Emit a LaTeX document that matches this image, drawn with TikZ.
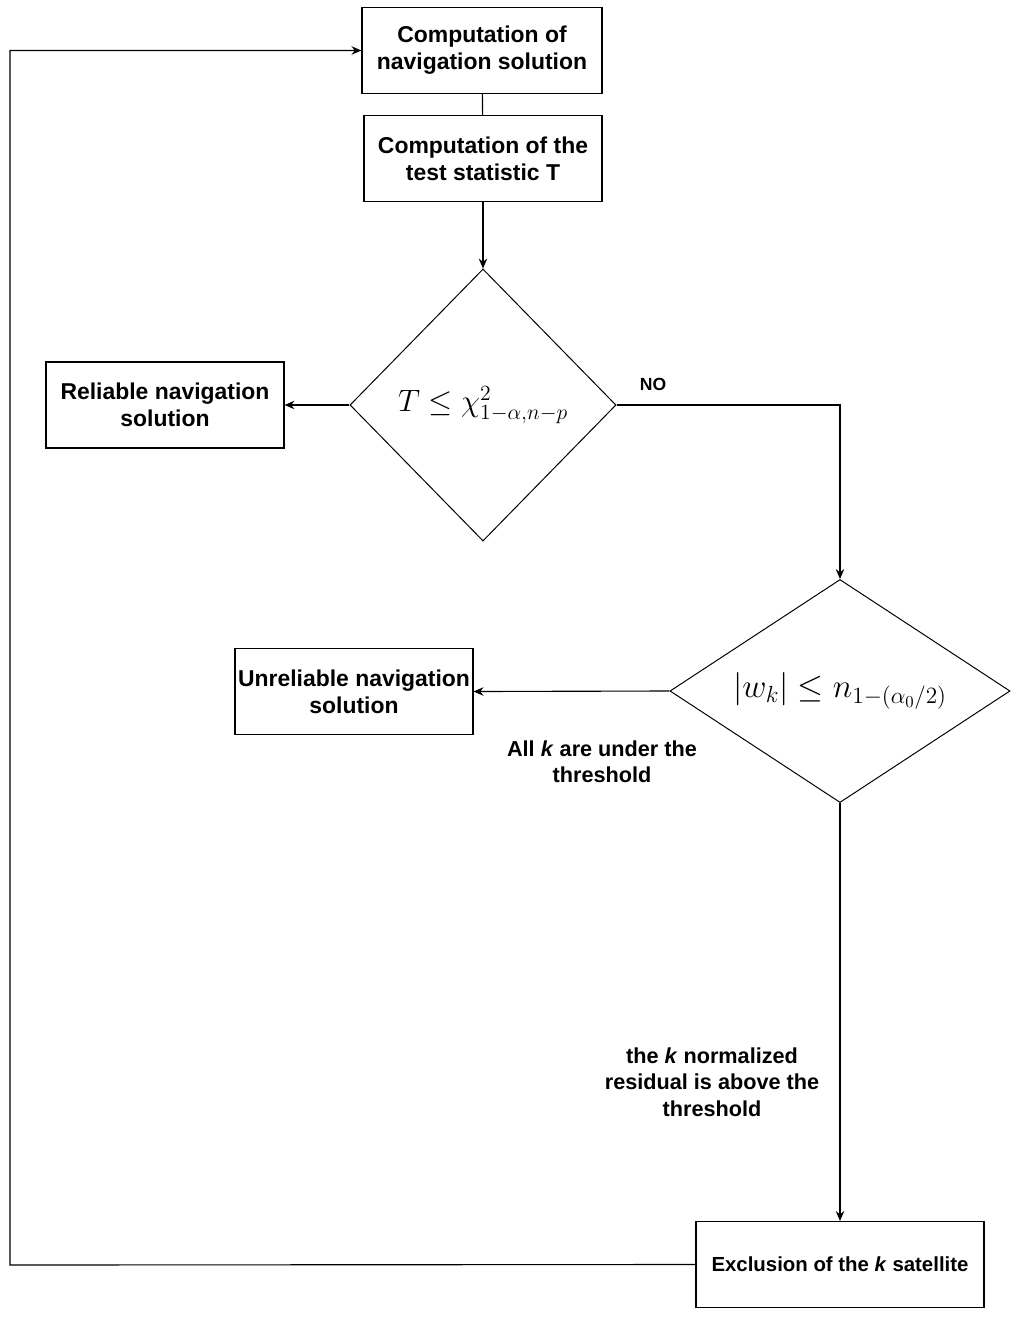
\documentclass[tikz,border=0pt]{standalone}
\usepackage{fix-cm}
\usepackage{amsmath}
\usepackage{amssymb}
\usepackage{fontspec}
\setmainfont{Liberation Sans}
\usetikzlibrary{shapes.geometric}
\usetikzlibrary{arrows.meta}

\begin{document}
\begin{tikzpicture}[
    x=0.025cm, y=-0.025cm,
    every node/.style={inner sep=1mm},
    punkt/.style={rectangle, draw=black, line width=0.8pt, align=center,
    minimum height=2.15cm, font=\fontsize{16.3}{19.2}\selectfont\bfseries},
    rombe/.style={diamond, draw=black, line width=0.7pt, inner sep=0pt},
    kant/.style={align=center, font=\fontsize{15.4}{18.8}\selectfont\bfseries},
    pil/.style={line width=0.8pt, -{Stealth[length=7pt,width=6pt]}},
    linje/.style={line width=0.8pt}
]
\useasboundingbox (0,0) rectangle (1024,1318);

% the boxes
\node[punkt, minimum width=6cm] (comp) at (482,50.5)
    {Computation of\\navigation solution};
\node[punkt, minimum width=5.95cm] (stat) at (483,158.5)
    {Computation of the\\test statistic T};
\node[punkt, minimum width=5.95cm] (rel) at (165,405)
    {Reliable navigation\\solution};
\node[punkt, minimum width=5.95cm, inner sep=0.5mm] (unrel) at (354,691.5)
    {Unreliable navigation\\solution};
\node[punkt, minimum width=7.2cm, font=\fontsize{14.5}{18}\selectfont\bfseries] (excl) at (840,1264.5)
    {Exclusion of the \textit{k} satellite};

% the tests
\node[rombe, minimum width=6.65cm, minimum height=6.8cm,
    font=\fontsize{22}{25}\selectfont] (chi) at (483,405)
    {$T \leq \chi^2_{1-\alpha,n-p}$};
\node[rombe, aspect=1.5, minimum width=8.5cm, minimum height=5.575cm,
    font=\fontsize{23.7}{27}\selectfont] (res) at (840,691)
    {$|w_k| \leq n_{1-(\alpha_0/2)}$};

\coordinate (knee) at (840,405);
\coordinate (loopa) at (10,1265);
\coordinate (loopb) at (10,50.5);

% connectors
\draw[linje] (comp) -- (stat);
\draw[pil] (stat) -- (chi.north);
\draw[pil] (chi.west) -- (rel.east);
\draw[pil] (chi.east) -- (knee) -- (res.north);
\draw[pil] (res.west) -- (unrel.east);
\draw[pil] (res.south) -- (excl.north);
\draw[pil] (excl.west) -- (loopa) -- (loopb) -- (comp.west);

% labels
\node[kant, font=\fontsize{12.5}{15}\selectfont\bfseries] (no) at (653,384) {NO};
\node[kant] (under) at (602,762) {All \textit{k} are under the\\threshold};
\node[kant] (above) at (712,1082)
    {the \textit{k} normalized\\residual is above the\\threshold};
\end{tikzpicture}
\end{document}
